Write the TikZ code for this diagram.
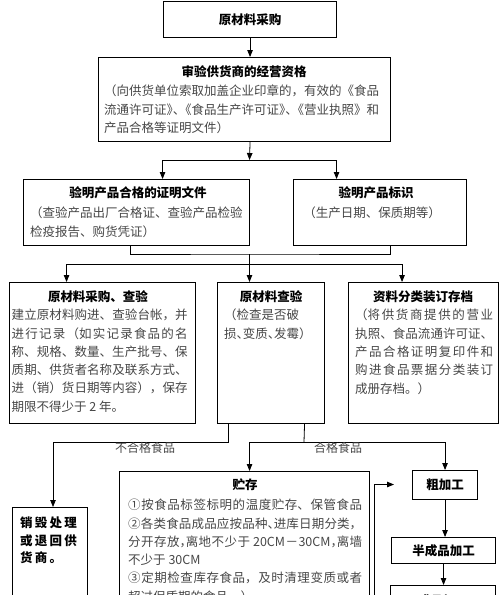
\documentclass[tikz,border=0pt]{standalone}
\usepackage{fontspec}
\setmainfont{Noto Sans CJK SC}
\usetikzlibrary{arrows.meta}
\XeTeXlinebreaklocale "zh"
\XeTeXlinebreakskip=0pt plus 3pt
\setlength{\parindent}{0pt}
\definecolor{bodygray}{RGB}{70,70,70}
\newcommand{\halfw}[1]{{\addfontfeature{RawFeature=+halt}#1}}

\begin{document}
\begin{tikzpicture}[x=1pt,y=-1pt,
    box/.style={draw, line width=1.1pt, inner sep=0pt, anchor=north west, font=\fontsize{12.5}{15}\selectfont\bfseries},
    headline/.style={inner sep=0pt, font=\fontsize{12.5}{18.3}\selectfont\bfseries},
    body/.style={inner sep=0pt, anchor=north west, align=left, text=bodygray, font=\fontsize{12.5}{18.3}\selectfont},
    bodyj/.style={body, align=justify},
    arr/.style={line width=0.8pt, -{Triangle[length=7pt,width=5.5pt]}},
    link/.style={line width=0.8pt},
    lbl/.style={inner sep=0pt, text=bodygray, font=\fontsize{12}{14}\selectfont}]

    \useasboundingbox (0,0) rectangle (500,595);
    \clip (0,0) rectangle (500,595);

    % 方框
    \node[box, minimum width=173pt, minimum height=36pt] (b1) at (163,1) {原材料采购};
    \node[box, minimum width=292pt, minimum height=84pt] (b2) at (98,57) {};
    \node[box, minimum width=226pt, minimum height=66pt] (b3a) at (23,179) {};
    \node[box, minimum width=173pt, minimum height=66pt] (b3b) at (293,179) {};
    \node[box, minimum width=186pt, minimum height=141pt] (b4a) at (9,282) {};
    \node[box, minimum width=107pt, minimum height=141pt] (b4b) at (217,282) {};
    \node[box, minimum width=150pt, minimum height=141pt] (b4c) at (348,282) {};
    \node[box, minimum width=250pt, minimum height=140pt] (b5) at (119,471) {};
    \node[box, minimum width=75pt, minimum height=110pt] (b6) at (12,507) {};
    \node[box, minimum width=65pt, minimum height=29pt] (p1) at (412,470) {粗加工};
    \node[box, minimum width=104pt, minimum height=26pt] (p2) at (391,537) {半成品加工};
    \node[box, minimum width=105pt, minimum height=30pt] (p3) at (390,585) {成品加工};

    % 方框里的文字
    \node[headline] (t2) at (244,72) {审验供货商的经营资格};
    \node[body] (d2) at (104,85) {（向供货单位索取加盖企业印章的，有效的《食品\\流通许可证\halfw{》、}《食品生产许可证\halfw{》、}《营业执照》和\\产品合格等证明文件）};
    \node[headline] (t3a) at (138,193) {验明产品合格的证明文件};
    \node[body] (d3a) at (30,207) {（查验产品出厂合格证、查验产品检验\\检疫报告、购货凭证）};
    \node[headline] (t3b) at (376,193) {验明产品标识};
    \node[body, anchor=center] (d3b) at (372,213) {（生产日期、保质期等）};
    \node[headline] (t4a) at (98,297) {原材料采购、查验};
    \node[bodyj, text width=176pt] (d4a) at (11.5,309) {建立原材料购进、查验台帐，并\linebreak 进行记录（如实记录食品的名\linebreak 称、规格、数量、生产批号、保\linebreak 质期、供货者名称及联系方式、\linebreak 进（销）货日期等内容），保存\linebreak 期限不得少于 2 年。};
    \node[headline] (t4b) at (271,297) {原材料查验};
    \node[body] (d4b) at (224,309) {（检查是否破\\损\halfw{、}变质\halfw{、}发霉）};
    \node[headline] (t4c) at (423,297) {资料分类装订存档};
    \node[bodyj, text width=138pt] (d4c) at (355,309) {（将供货商提供的营业\linebreak 执照、食品流通许可证、\linebreak 产品合格证明复印件和\linebreak 购进食品票据分类装订\linebreak 成册存档。）};
    \node[headline] (t5) at (245,485) {贮存};
    \node[bodyj, text width=234pt] (d5) at (128,499) {①按食品标签标明的温度贮存、保管食品\linebreak ②各类食品成品应按品种\halfw{、}进库日期分类，\linebreak 分开存放\halfw{，}离地不少于 20CM－30CM\halfw{，}离墙\linebreak 不少于 30CM\\③定期检查库存食品，及时清理变质或者\linebreak 超过保质期的食品。）};
    \node[body, text=black, font=\fontsize{12.5}{17.5}\selectfont\bfseries\addfontfeature{LetterSpace=18}] (d6) at (20,517) {销毁处理\\或退回供\\货商。};

    % 连线
    \coordinate (j1) at (249.5,160);
    \coordinate (j2) at (249.5,254);
    \coordinate (j3) at (249.5,264);
    \coordinate (j4) at (53,442);
    \coordinate (j5) at (304,442);
    \coordinate (s0) at (374,600);
    \coordinate (s1) at (394,484.5);

    \draw[arr] (b1.south) -- (b1.south |- b2.north);
    \draw[arr] (b1.south |- b2.south) -- (j1);
    \draw[arr] (j1) -| ([xshift=26pt]b3a.north);
    \draw[arr] (j1) -| ([xshift=-43.5pt]b3b.north);
    \draw[link] ([xshift=-6pt]b3a.south) |- (j2) -| ([xshift=10.5pt]b3b.south);
    \draw[arr] (j2) -- (j2 |- b4b.north);
    \draw[arr] (j3) -| ([xshift=-36pt]b4a.north);
    \draw[arr] (j3) -| ([xshift=-21.5pt]b4c.north);
    \draw[arr] ([xshift=-42.5pt]b4b.south) |- (j4) -- (j4 |- b6.north);
    \draw[link] ([xshift=33.5pt]b4b.south) -- (j5);
    \draw[arr] (j5) -| ([xshift=5pt]b5.north);
    \draw[arr] (j5) -| (p1.north);
    \draw[arr] (p1.south) -- (p1.south |- p2.north);
    \draw[arr] (p2.south) -- (p2.south |- p3.north);
    \draw[arr] (s0) |- (s1);

    % 连线上的文字
    \node[lbl] (l1) at (145,447.5) {不合格食品};
    \node[lbl] (l2) at (338,447.5) {合格食品};

\end{tikzpicture}
\end{document}
